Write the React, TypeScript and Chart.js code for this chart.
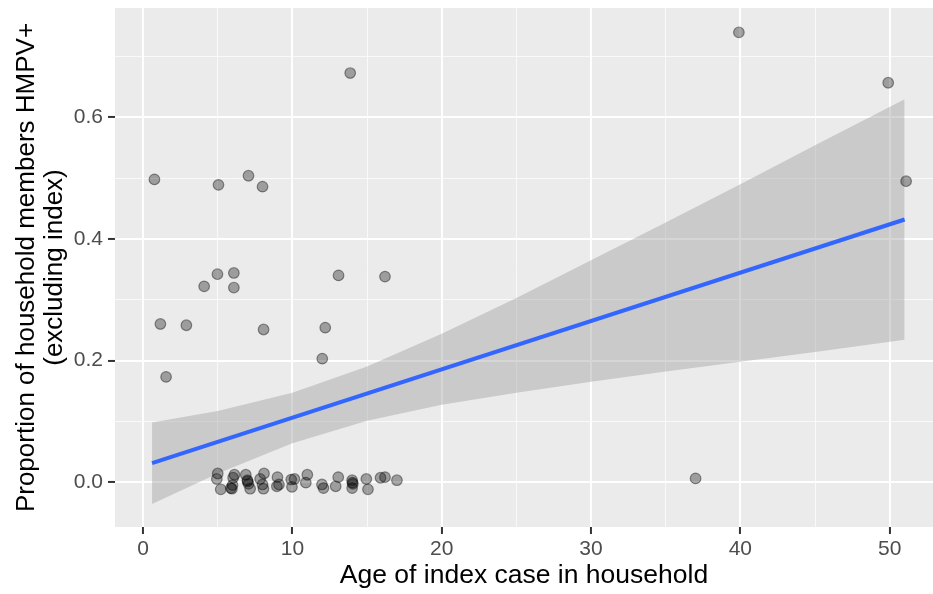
import React, { useEffect, useRef } from 'react';
import { Chart, registerables } from 'chart.js';

Chart.register(...registerables);

// Scatter points: age of index case vs proportion of household members HMPV+
const ageValues = [
  0.76, 5.05, 7.06, 8.0, 4.98, 6.08, 4.09, 6.08, 13.09, 16.2, 1.16, 2.9, 8.07, 12.2, 12.0, 1.54,
  13.87, 39.9, 49.9, 51.1, 37.0,
  5.0, 4.94, 5.2, 5.88, 5.99, 6.12, 6.03, 6.88, 6.99, 7.06, 7.17, 7.84, 8.1, 8.0, 8.06,
  9.0, 8.96, 9.1, 9.92, 9.97, 10.14, 11.0, 10.9, 11.98, 12.08, 12.9, 13.07, 14.0, 14.05,
  14.0, 14.95, 15.06, 15.9, 16.2, 17.0, 5.95, 7.0, 14.02,
];
const proportionValues = [
  0.498, 0.489, 0.504, 0.486, 0.342, 0.344, 0.322, 0.32, 0.34, 0.338, 0.26, 0.258, 0.251, 0.254, 0.203, 0.173,
  0.673, 0.74, 0.657, 0.495, 0.006,
  0.014, 0.005, -0.012, -0.01, -0.005, 0.012, 0.007, 0.012, 0.003, -0.003, -0.011, 0.005, 0.014, -0.004, -0.011,
  0.008, -0.007, -0.004, 0.004, -0.008, 0.005, 0.012, -0.001, -0.004, -0.01, -0.007, 0.008, 0.003, -0.003,
  -0.01, 0.005, -0.012, 0.007, 0.008, 0.003, -0.011, 0.001, -0.001,
];

// Fitted line and confidence band
const fitX = [0.6, 51.0];
const fitY = [0.031, 0.432];
const bandX = [0.6, 5, 10, 15, 20, 25, 30, 35, 40, 45, 51];
const bandLower = [-0.036, 0.014, 0.064, 0.101, 0.127, 0.147, 0.165, 0.182, 0.198, 0.214, 0.234];
const bandUpper = [0.098, 0.117, 0.147, 0.19, 0.244, 0.303, 0.365, 0.427, 0.49, 0.554, 0.63];

// Axis ticks (majors labelled, minors only drawn as grid lines)
const xTickValues = [0, 5, 10, 15, 20, 25, 30, 35, 40, 45, 50];
const xMajorTicks = [0, 10, 20, 30, 40, 50];
const yTickValues = [0, 0.1, 0.2, 0.3, 0.4, 0.5, 0.6, 0.7];
const yMajorTicks = [0, 0.2, 0.4, 0.6];

const xTitle = 'Age of index case in household';
const yTitle = ['Proportion of household members HMPV+', '(excluding index)'];

const isMajor = (v: number, majors: number[]) => majors.some((m) => Math.abs(m - v) < 1e-6);

const panelBg = {
  id: 'panelBg',
  beforeDraw(chart: any) {
    const { ctx, chartArea } = chart;
    if (!chartArea) return;
    ctx.save();
    ctx.fillStyle = '#EBEBEB';
    ctx.fillRect(chartArea.left, chartArea.top, chartArea.right - chartArea.left, chartArea.bottom - chartArea.top);
    ctx.restore();
  },
};

export default function App() {
  const ref = useRef<HTMLCanvasElement | null>(null);

  useEffect(() => {
    document.body.style.margin = '0';
    if (!ref.current) return;
    const font = "'Liberation Sans', Arial, Helvetica, sans-serif";
    const points = ageValues.map((x, i) => ({ x, y: proportionValues[i] }));
    const lower = bandX.map((x, i) => ({ x, y: bandLower[i] }));
    const upper = bandX.map((x, i) => ({ x, y: bandUpper[i] }));
    const fit = fitX.map((x, i) => ({ x, y: fitY[i] }));

    const gridFor = (majors: number[]) => ({
      display: true,
      drawOnChartArea: true,
      drawTicks: true,
      tickLength: 7,
      color: (c: any) => (c.tick && isMajor(c.tick.value, majors) ? '#FFFFFF' : 'rgba(255,255,255,0.75)'),
      lineWidth: (c: any) => (c.tick && isMajor(c.tick.value, majors) ? 1.9 : 0.9),
      tickColor: (c: any) => (c.tick && isMajor(c.tick.value, majors) ? '#333333' : 'rgba(0,0,0,0)'),
      tickWidth: 2,
    });

    const chart = new Chart(ref.current, {
      type: 'scatter',
      data: {
        datasets: [
          {
            type: 'line',
            data: lower,
            borderWidth: 0,
            borderColor: 'rgba(0,0,0,0)',
            pointRadius: 0,
            fill: false,
            order: 3,
          } as any,
          {
            type: 'line',
            data: upper,
            borderWidth: 0,
            borderColor: 'rgba(0,0,0,0)',
            backgroundColor: 'rgba(153,153,153,0.4)',
            pointRadius: 0,
            fill: '-1',
            order: 3,
          } as any,
          {
            type: 'line',
            data: fit,
            borderColor: '#3366FF',
            borderWidth: 4,
            pointRadius: 0,
            fill: false,
            order: 2,
          } as any,
          {
            type: 'scatter',
            data: points,
            pointRadius: 5.3,
            pointBackgroundColor: 'rgba(0,0,0,0.33)',
            pointBorderColor: 'rgba(0,0,0,0.4)',
            pointBorderWidth: 1.2,
            order: 1,
          } as any,
        ],
      },
      options: {
        responsive: false,
        animation: false,
        devicePixelRatio: 1,
        layout: { padding: { top: 8, left: 0, right: 0, bottom: 0 }, autoPadding: false } as any,
        plugins: { legend: { display: false }, tooltip: { enabled: false } },
        scales: {
          x: {
            type: 'linear',
            min: -1.88,
            max: 52.9,
            afterBuildTicks: (s: any) => {
              s.ticks = xTickValues.map((v) => ({ value: v }));
            },
            afterFit: (s: any) => {
              s.height = 67;
              s.paddingLeft = 0;
              s.paddingRight = 0;
            },
            border: { display: false },
            grid: gridFor(xMajorTicks) as any,
            ticks: {
              autoSkip: false,
              maxRotation: 0,
              padding: 3,
              color: '#4D4D4D',
              font: { family: font, size: 21 },
              callback: (v: any) => (isMajor(Number(v), xMajorTicks) ? String(Math.round(Number(v))) : ''),
            },
            title: {
              display: true,
              text: xTitle,
              color: '#000000',
              font: { family: font, size: 26.5, lineHeight: 1.2 },
              padding: { top: 0, bottom: 2 },
            },
          },
          y: {
            type: 'linear',
            min: -0.074,
            max: 0.78,
            afterBuildTicks: (s: any) => {
              s.ticks = yTickValues.map((v) => ({ value: v }));
            },
            afterFit: (s: any) => {
              s.width = 115;
              s.paddingTop = 0;
              s.paddingBottom = 0;
            },
            border: { display: false },
            grid: gridFor(yMajorTicks) as any,
            ticks: {
              autoSkip: false,
              padding: 5,
              color: '#4D4D4D',
              font: { family: font, size: 21 },
              callback: (v: any) => (isMajor(Number(v), yMajorTicks) ? Number(v).toFixed(1) : ''),
            },
            title: {
              display: true,
              text: yTitle,
              color: '#000000',
              font: { family: font, size: 26, lineHeight: 1.08 },
              padding: { top: 13, bottom: 0 },
            },
          },
        },
      },
      plugins: [panelBg],
    } as any);

    return () => chart.destroy();
  }, []);

  return <canvas ref={ref} width={933} height={594} style={{ display: 'block' }} />;
}
